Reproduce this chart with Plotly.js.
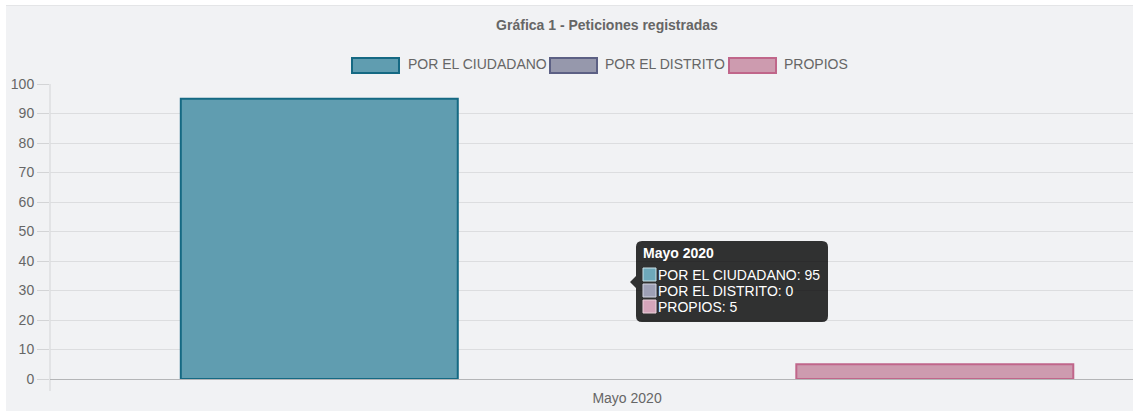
<!DOCTYPE html>
<html>
<head>
<meta charset="utf-8">
<script src="https://cdn.plot.ly/plotly-3.0.1.min.js"></script>
<style>
  html, body { margin: 0; padding: 0; background: #ffffff; width: 1133px; height: 411px; overflow: hidden; }
  #panel { position: absolute; left: 6px; top: 5px; width: 1127px; height: 406px; background: #f1f2f4; border-top: 1px solid #e4e5e7; box-sizing: border-box; }
  #chart { position: absolute; left: 0; top: 0; width: 1133px; height: 411px; }
</style>
</head>
<body>
<div id="panel"></div>
<div id="chart"></div>
<script>
// ---- data ----
const categories = ["Mayo 2020"];
const seriesNames = ["POR EL CIUDADANO", "POR EL DISTRITO", "PROPIOS"];
const ciudadano = [95];
const distrito = [0];
const propios = [5];
const chartTitle = "Gráfica 1 - Peticiones registradas";

// ---- styles ----
const fills = ["rgba(96,157,176,1)", "rgba(150,152,172,1)", "rgba(205,155,175,1)"];
const borders = ["rgb(21,105,131)", "rgb(92,96,132)", "rgb(192,102,138)"];
const tipFills = ["rgb(110,168,186)", "rgb(158,160,182)", "rgb(212,165,186)"];
const tipBorders = ["rgb(200,225,232)", "rgb(210,212,225)", "rgb(235,210,220)"];
const font = "Liberation Sans, Arial, sans-serif";

const seriesValues = [ciudadano, distrito, propios];

// plot area in pixels
const L = 50, R = 1133, T = 84, B = 379;
const fx = p => (p - L) / (R - L);
const fy = p => (B - p) / (B - T);

const traces = seriesNames.map((name, i) => ({
  type: "bar",
  name: name,
  x: categories,
  y: seriesValues[i],
  marker: { color: fills[i], line: { color: borders[i], width: seriesValues[i].map(v => v === 0 ? 0 : 2) } },
  hoverinfo: "none"
}));

const shapes = [];
const annotations = [];

// left axis line (offset gridline)
shapes.push({ type: "line", xref: "paper", yref: "paper", x0: 0, x1: 0, y0: fy(391), y1: 1,
  line: { color: "#d3d4d6", width: 1 }, layer: "below" });

// legend
const legendBoxes = [352, 550, 729];
const legendTexts = [406, 603, 782];
seriesNames.forEach((name, i) => {
  shapes.push({ type: "rect", xref: "paper", yref: "paper",
    x0: fx(legendBoxes[i]), x1: fx(legendBoxes[i] + 47), y0: fy(58), y1: fy(73),
    fillcolor: fills[i], line: { color: borders[i], width: 2 } });
  annotations.push({ xref: "paper", yref: "paper", x: fx(legendTexts[i]), y: fy(64),
    xanchor: "left", yanchor: "middle", showarrow: false, text: name,
    font: { family: font, size: 14, color: "#666666" } });
});

// tooltip
(function () {
  const x0 = 636, x1 = 828, y0 = 241, y1 = 322, r = 6, cy = 282, tip = 630;
  const P = (x, y) => fx(x) + "," + fy(y);
  const path = "M" + P(x0 + r, y0) + " L" + P(x1 - r, y0) + " Q" + P(x1, y0) + " " + P(x1, y0 + r) +
    " L" + P(x1, y1 - r) + " Q" + P(x1, y1) + " " + P(x1 - r, y1) +
    " L" + P(x0 + r, y1) + " Q" + P(x0, y1) + " " + P(x0, y1 - r) +
    " L" + P(x0, cy + 6) + " L" + P(tip, cy) + " L" + P(x0, cy - 6) +
    " L" + P(x0, y0 + r) + " Q" + P(x0, y0) + " " + P(x0 + r, y0) + " Z";
  shapes.push({ type: "path", xref: "paper", yref: "paper", path: path,
    fillcolor: "rgba(0,0,0,0.8)", line: { width: 0 } });
  annotations.push({ xref: "paper", yref: "paper", x: fx(641), y: fy(253),
    xanchor: "left", yanchor: "middle", showarrow: false, text: "<b>" + categories[0] + "</b>",
    font: { family: font, size: 14, color: "#ffffff" } });
  const rowY = [275, 291, 307];
  seriesNames.forEach((name, i) => {
    shapes.push({ type: "rect", xref: "paper", yref: "paper",
      x0: fx(643), x1: fx(656), y0: fy(rowY[i] - 7), y1: fy(rowY[i] + 6),
      fillcolor: tipFills[i], line: { color: tipBorders[i], width: 1 } });
    annotations.push({ xref: "paper", yref: "paper", x: fx(656), y: fy(rowY[i]),
      xanchor: "left", yanchor: "middle", showarrow: false,
      text: name + ": " + seriesValues[i][0],
      font: { family: font, size: 14, color: "#ffffff" } });
  });
})();

const layout = {
  width: 1133, height: 411,
  margin: { l: L, r: 1133 - R, t: T, b: 411 - B, pad: 0 },
  paper_bgcolor: "rgba(0,0,0,0)",
  plot_bgcolor: "rgba(0,0,0,0)",
  showlegend: false,
  barmode: "group",
  bargap: 0.2,
  bargroupgap: 0.1,
  font: { family: font, size: 14, color: "#666666" },
  title: { text: chartTitle, x: 607 / 1133, xref: "container", xanchor: "center",
    y: 1 - 25 / 411, yref: "container", yanchor: "middle",
    font: { family: font, size: 14, color: "#666666", weight: "bold" } },
  xaxis: {
    type: "category",
    range: [-0.5, 0.4384],
    showgrid: false, zeroline: false, showline: false,
    ticks: "", ticklabelstandoff: 9,
    tickfont: { family: font, size: 14, color: "#666666" },
    fixedrange: true
  },
  yaxis: {
    range: [0, 100], dtick: 10, tick0: 0,
    showgrid: true, gridcolor: "#dcdddf", gridwidth: 1,
    zeroline: true, zerolinecolor: "#b4b5b7", zerolinewidth: 1,
    showline: false,
    ticks: "outside", ticklen: 12, tickcolor: "#d3d4d6", tickwidth: 1,
    tickfont: { family: font, size: 14, color: "#666666" },
    fixedrange: true
  },
  shapes: shapes,
  annotations: annotations
};

Plotly.newPlot("chart", traces, layout, { displayModeBar: false, staticPlot: true });
</script>
</body>
</html>
